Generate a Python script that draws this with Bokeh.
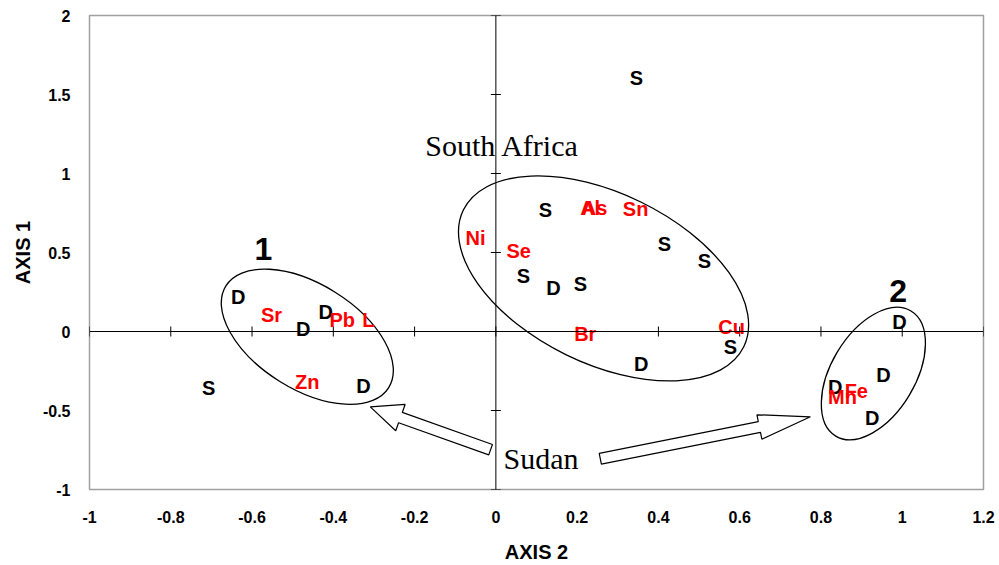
import math
from bokeh.plotting import figure
from bokeh.models import ColumnDataSource, Range1d, FixedTicker, Span
from bokeh.core.properties import value
from bokeh.embed import file_html
from bokeh.resources import INLINE

# ---- data -------------------------------------------------------------
# sample scores: S = South Africa, D = Sudan
site_labels = ["D", "D", "D", "D", "S",
               "S", "S", "S", "S", "D", "S", "S", "D", "S",
               "D", "D", "D", "D"]
site_x = [-0.634, -0.474, -0.419, -0.326, -0.707,
          0.122, 0.415, 0.513, 0.068, 0.142, 0.208, 0.577, 0.358, 0.346,
          0.993, 0.954, 0.835, 0.926]
site_y = [0.216, 0.014, 0.122, -0.345, -0.357,
          0.770, 0.556, 0.449, 0.349, 0.273, 0.298, -0.099, -0.206, 1.603,
          0.059, -0.275, -0.351, -0.546]

# element loadings
elem_labels = ["Sr", "Pb", "L", "Zn", "Ni", "Se", "Al", "As", "Sn", "Br", "Cu", "Fe", "Mn"]
elem_x = [-0.552, -0.378, -0.314, -0.464, -0.050, 0.056, 0.232, 0.243, 0.344, 0.220, 0.580, 0.887, 0.853]
elem_y = [0.103, 0.071, 0.071, -0.319, 0.594, 0.512, 0.783, 0.783, 0.777, -0.017, 0.027, -0.374, -0.414]

x_ticks = [-1, -0.8, -0.6, -0.4, -0.2, 0, 0.2, 0.4, 0.6, 0.8, 1, 1.2]
x_tick_labels = ["-1", "-0.8", "-0.6", "-0.4", "-0.2", "0", "0.2", "0.4", "0.6", "0.8", "1", "1.2"]
y_ticks = [-1, -0.5, 0, 0.5, 1, 1.5, 2]
y_tick_labels = ["-1", "-0.5", "0", "0.5", "1", "1.5", "2"]

group_labels = ["1", "2"]
group_x = [-0.572, 0.990]
group_y = [0.519, 0.254]

country_labels = ["South Africa", "Sudan"]
country_x = [0.016, 0.111]
country_y = [1.180, -0.805]

# cluster ellipses (centre in data units, size in screen pixels)
ell_x = [-0.464, 0.265, 0.929]
ell_y = [-0.033, 0.336, -0.266]
ell_w_px = [192, 312, 146]
ell_h_px = [105, 170, 84]
ell_angle_deg = [-32, -26, 59]

# block arrows pointing away from "Sudan"
arrow_tail_x = [-0.013, 0.257]
arrow_tail_y = [-0.748, -0.805]
arrow_tip_x = [-0.309, 0.774]
arrow_tip_y = [-0.477, -0.540]
arrow_shaft_px = [5.5, 5.5]
arrow_head_w_px = [14.0, 12.5]
arrow_head_len_px = [32.0, 52.0]

# ---- figure -----------------------------------------------------------
X0, X1, Y0, Y1 = -1, 1.2, -1, 2
FW, FH = 894, 476
SX = FW / (X1 - X0)
SY = FH / (Y1 - Y0)

p = figure(width=999, height=565, output_backend="svg", toolbar_location=None,
           x_range=Range1d(X0, X1), y_range=Range1d(Y0, Y1),
           min_border_left=89, min_border_right=16, min_border_top=15, min_border_bottom=74)
p.background_fill_color = "white"
p.border_fill_color = "white"
p.outline_line_color = "#a0a0a0"
p.outline_line_width = 1.5
p.grid.visible = False

FONT = value("Liberation Sans")

for ax, ticks, labs in ((p.xaxis[0], x_ticks, x_tick_labels), (p.yaxis[0], y_ticks, y_tick_labels)):
    ax.ticker = FixedTicker(ticks=ticks)
    ax.major_label_overrides = {t: l for t, l in zip(ticks, labs)}
    ax.axis_line_color = None
    ax.major_tick_line_color = None
    ax.minor_tick_line_color = None
    ax.major_label_text_font = "Liberation Sans"
    ax.major_label_text_font_style = "bold"
    ax.major_label_text_font_size = "16px"
    ax.major_label_text_color = "black"
    ax.axis_label_text_font = "Liberation Sans"
    ax.axis_label_text_font_style = "bold"
    ax.axis_label_text_font_size = "20px"
    ax.axis_label_text_color = "black"

p.xaxis.axis_label = "AXIS 2"
p.yaxis.axis_label = "AXIS 1"
p.xaxis.major_label_standoff = 15
p.xaxis.axis_label_standoff = 15
p.yaxis.major_label_standoff = 13
p.yaxis.axis_label_standoff = 6

# zero axes through the origin
p.add_layout(Span(location=0, dimension="width", line_color="black", line_width=1))
p.add_layout(Span(location=0, dimension="height", line_color="black", line_width=1))
p.scatter(x_ticks, [0] * len(x_ticks), marker="dash", size=10, angle=math.pi / 2,
          line_color="black", line_width=1)
p.scatter([0] * len(y_ticks), y_ticks, marker="dash", size=10,
          line_color="black", line_width=1)

# ellipses
p.ellipse(x=ell_x, y=ell_y, width=ell_w_px, height=ell_h_px,
          width_units="screen", height_units="screen",
          angle=ell_angle_deg, angle_units="deg",
          fill_color=None, line_color="black", line_width=1.3)

# block arrows (built in screen-pixel space, converted back to data)
axs, ays = [], []
for tx, ty, hx, hy, s, hw, hl in zip(arrow_tail_x, arrow_tail_y, arrow_tip_x, arrow_tip_y,
                                      arrow_shaft_px, arrow_head_w_px, arrow_head_len_px):
    TX, TY, PX, PY = tx * SX, ty * SY, hx * SX, hy * SY
    L = math.hypot(PX - TX, PY - TY)
    ux, uy = (PX - TX) / L, (PY - TY) / L
    nx, ny = -uy, ux
    BX, BY = PX - hl * ux, PY - hl * uy
    pts = [(TX + s * nx, TY + s * ny), (BX + s * nx, BY + s * ny), (BX + hw * nx, BY + hw * ny),
           (PX, PY), (BX - hw * nx, BY - hw * ny), (BX - s * nx, BY - s * ny),
           (TX - s * nx, TY - s * ny)]
    axs.append([q[0] / SX for q in pts])
    ays.append([q[1] / SY for q in pts])
p.patches(axs, ays, fill_color="white", line_color="black", line_width=1.2)

# text
site_src = ColumnDataSource(dict(x=site_x, y=site_y, t=site_labels))
p.text(x="x", y="y", text="t", source=site_src, text_font=FONT, text_font_style="bold",
       text_font_size="20px", text_color="black", text_align="center", text_baseline="middle")
elem_src = ColumnDataSource(dict(x=elem_x, y=elem_y, t=elem_labels))
p.text(x="x", y="y", text="t", source=elem_src, text_font=FONT, text_font_style="bold",
       text_font_size="20px", text_color="#ff0000", text_align="center", text_baseline="middle")
grp_src = ColumnDataSource(dict(x=group_x, y=group_y, t=group_labels))
p.text(x="x", y="y", text="t", source=grp_src, text_font=FONT, text_font_style="bold",
       text_font_size="32px", text_color="black", text_align="center", text_baseline="middle")
cty_src = ColumnDataSource(dict(x=country_x, y=country_y, t=country_labels))
p.text(x="x", y="y", text="t", source=cty_src, text_font=value("Liberation Serif"),
       text_font_size="30px", text_color="black", text_align="center", text_baseline="middle")

open("out.html", "w").write(file_html(p, INLINE))
